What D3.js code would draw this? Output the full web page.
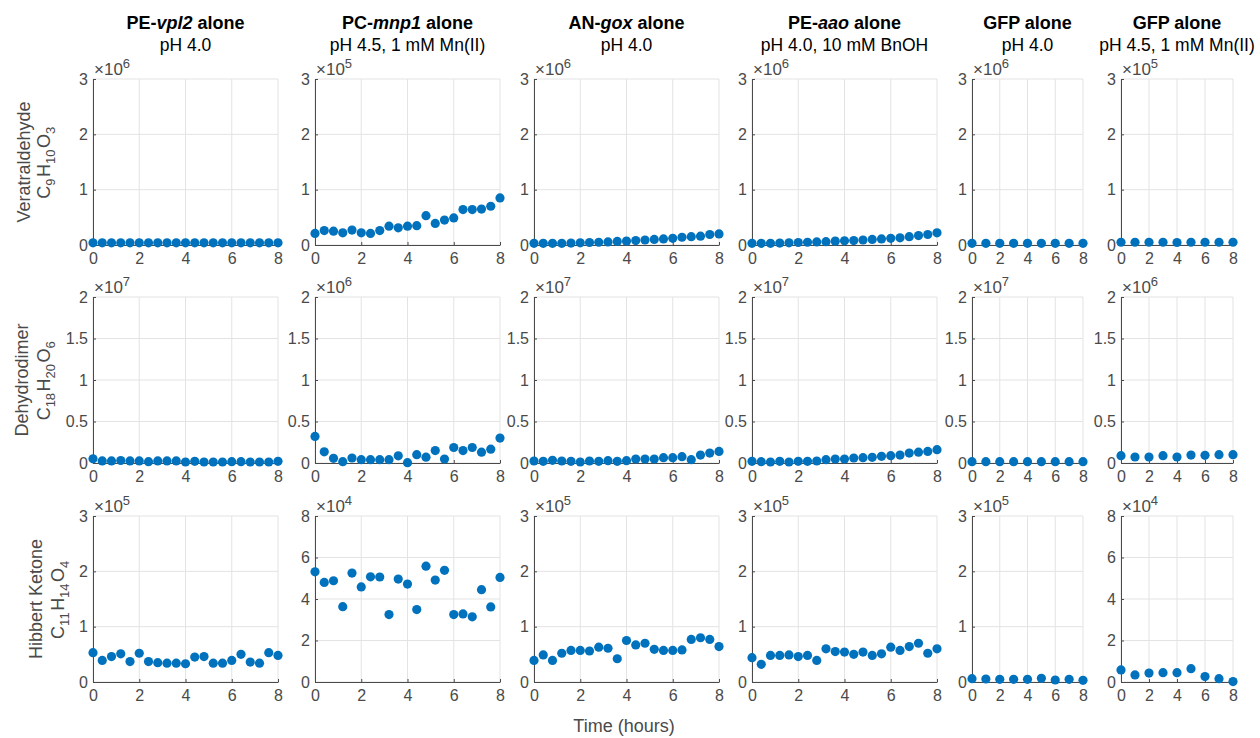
<!DOCTYPE html>
<html>
<head>
<meta charset="utf-8">
<script src="https://cdn.jsdelivr.net/npm/d3@7"></script>
<style>
  body { margin: 0; background: #fff; }
  svg { font-family: "Liberation Sans", Arial, Helvetica, sans-serif; }
</style>
</head>
<body>
<div class="chartContainer"></div>
<script>
//time points (hours)
var timeLong = [0, 0.4, 0.8, 1.2, 1.6, 2, 2.4, 2.8, 3.2, 3.6, 4, 4.4, 4.8, 5.2, 5.6, 6, 6.4, 6.8, 7.2, 7.6, 8];
var timeShort = [0, 1, 2, 3, 4, 5, 6, 7, 8];
var xTicks = [0, 2, 4, 6, 8];

//column titles: [bold, bold italic gene, bold]
var titleParts = [
    ["PE-", "vpl2", " alone"],
    ["PC-", "mnp1", " alone"],
    ["AN-", "gox", " alone"],
    ["PE-", "aao", " alone"],
    ["GFP alone", "", ""],
    ["GFP alone", "", ""]
];
var conditions = ["pH 4.0", "pH 4.5, 1 mM Mn(II)", "pH 4.0", "pH 4.0, 10 mM BnOH", "pH 4.0", "pH 4.5, 1 mM Mn(II)"];

//row labels
var compounds = ["Veratraldehyde", "Dehydrodimer", "Hibbert Ketone"];
var formulas = ["C9H10O3", "C18H20O6", "C11H14O4"];

//y axis: max value and power of ten per panel [row][col]
var yMax = [[3, 3, 3, 3, 3, 3], [2, 2, 2, 2, 2, 2], [3, 8, 3, 3, 3, 8]];
var exponents = [[6, 5, 6, 6, 6, 5], [7, 6, 7, 7, 7, 6], [5, 4, 5, 5, 5, 4]];

//veratraldehyde (values in units of 10^exponent)
var verVpl2 = [0.04, 0.04, 0.04, 0.04, 0.04, 0.04, 0.04, 0.04, 0.04, 0.04, 0.04, 0.04, 0.04, 0.04, 0.04, 0.04, 0.04, 0.04, 0.04, 0.04, 0.04];
var verMnp1 = [0.21, 0.26, 0.25, 0.22, 0.27, 0.22, 0.21, 0.26, 0.34, 0.31, 0.34, 0.35, 0.53, 0.39, 0.45, 0.49, 0.64, 0.64, 0.65, 0.70, 0.85];
var verGox = [0.03, 0.03, 0.03, 0.03, 0.035, 0.04, 0.045, 0.05, 0.055, 0.065, 0.07, 0.08, 0.09, 0.10, 0.11, 0.12, 0.14, 0.15, 0.16, 0.19, 0.20];
var verAao = [0.03, 0.03, 0.03, 0.035, 0.04, 0.045, 0.05, 0.055, 0.06, 0.07, 0.075, 0.08, 0.09, 0.10, 0.11, 0.12, 0.13, 0.15, 0.17, 0.19, 0.22];
var verGfp = [0.03, 0.03, 0.03, 0.03, 0.03, 0.03, 0.03, 0.03, 0.03];
var verGfpMn = [0.05, 0.05, 0.05, 0.05, 0.045, 0.05, 0.05, 0.05, 0.05];

//dehydrodimer
var dimVpl2 = [0.05, 0.025, 0.025, 0.03, 0.025, 0.025, 0.016, 0.025, 0.025, 0.025, 0.012, 0.02, 0.012, 0.012, 0.012, 0.016, 0.016, 0.012, 0.012, 0.012, 0.02];
var dimMnp1 = [0.32, 0.135, 0.056, 0.016, 0.06, 0.04, 0.04, 0.04, 0.04, 0.087, 0.004, 0.10, 0.07, 0.15, 0.048, 0.187, 0.15, 0.187, 0.13, 0.167, 0.30];
var dimGox = [0.024, 0.02, 0.032, 0.024, 0.02, 0.012, 0.024, 0.02, 0.028, 0.02, 0.028, 0.048, 0.048, 0.048, 0.064, 0.064, 0.076, 0.04, 0.096, 0.12, 0.14];
var dimAao = [0.02, 0.016, 0.012, 0.02, 0.012, 0.02, 0.02, 0.024, 0.04, 0.048, 0.048, 0.06, 0.064, 0.068, 0.08, 0.088, 0.096, 0.12, 0.13, 0.14, 0.16];
var dimGfp = [0.016, 0.016, 0.016, 0.016, 0.016, 0.016, 0.016, 0.016, 0.016];
var dimGfpMn = [0.088, 0.072, 0.072, 0.088, 0.072, 0.096, 0.092, 0.10, 0.10];

//hibbert ketone
var hkVpl2 = [0.53, 0.39, 0.46, 0.51, 0.37, 0.52, 0.37, 0.35, 0.34, 0.34, 0.33, 0.45, 0.46, 0.34, 0.34, 0.39, 0.50, 0.36, 0.34, 0.53, 0.48];
var hkMnp1 = [5.31, 4.80, 4.88, 3.63, 5.25, 4.58, 5.07, 5.06, 3.25, 4.96, 4.72, 3.49, 5.58, 4.91, 5.38, 3.25, 3.28, 3.14, 4.45, 3.62, 5.04];
var hkGox = [0.39, 0.49, 0.39, 0.52, 0.57, 0.57, 0.56, 0.63, 0.61, 0.42, 0.75, 0.67, 0.70, 0.59, 0.57, 0.57, 0.58, 0.77, 0.80, 0.77, 0.64];
var hkAao = [0.44, 0.32, 0.48, 0.48, 0.49, 0.46, 0.48, 0.39, 0.60, 0.55, 0.54, 0.50, 0.54, 0.48, 0.51, 0.63, 0.57, 0.64, 0.70, 0.52, 0.60];
var hkGfp = [0.06, 0.054, 0.048, 0.048, 0.048, 0.066, 0.036, 0.048, 0.03];
var hkGfpMn = [0.58, 0.34, 0.43, 0.45, 0.45, 0.64, 0.26, 0.16, 0.02];

var series = [
    [verVpl2, verMnp1, verGox, verAao, verGfp, verGfpMn],
    [dimVpl2, dimMnp1, dimGox, dimAao, dimGfp, dimGfpMn],
    [hkVpl2, hkMnp1, hkGox, hkAao, hkGfp, hkGfpMn]
];

//panel layout
var colLeft = [93, 315, 534, 752, 972, 1121],
    colWidth = [185, 185, 185, 185, 111, 112],
    rowTop = [79, 297, 516],
    rowHeight = 166;
var labelBase = [[30, 50], [28, 50], [42, 64]];

var textColor = "#4a4a4a",
    dotColor = "#0072BD";

window.onload = drawChart();

function drawChart(){

    var svg = d3.select("div.chartContainer")
        .append("svg")
        .attr("width", 1260)
        .attr("height", 738);

    //column titles
    titleParts.forEach(function(parts, c){
        var cx = colLeft[c] + colWidth[c] / 2;
        var title = svg.append("text")
            .attr("x", cx)
            .attr("y", 29)
            .attr("text-anchor", "middle")
            .attr("font-size", 18)
            .attr("font-weight", "bold")
            .attr("fill", "#000");
        title.append("tspan").text(parts[0]);
        if (parts[1]) title.append("tspan").attr("font-style", "italic").text(parts[1]);
        if (parts[2]) title.append("tspan").text(parts[2]);

        svg.append("text")
            .attr("x", cx)
            .attr("y", 51)
            .attr("text-anchor", "middle")
            .attr("font-size", 17.5)
            .attr("fill", "#000")
            .text(conditions[c]);
    });

    //row labels, rotated
    compounds.forEach(function(name, r){
        var cy = rowTop[r] + rowHeight / 2;
        var g = svg.append("g")
            .attr("transform", "translate(0," + cy + ") rotate(-90)");
        g.append("text")
            .attr("x", 0)
            .attr("y", labelBase[r][0])
            .attr("text-anchor", "middle")
            .attr("font-size", 18)
            .attr("fill", textColor)
            .text(name);
        var f = g.append("text")
            .attr("x", 0)
            .attr("y", labelBase[r][1])
            .attr("text-anchor", "middle")
            .attr("font-size", 18)
            .attr("fill", textColor);
        //split formula into element letters and subscript digits
        formulas[r].match(/[A-Z][a-z]?|\d+/g).forEach(function(tok){
            if (/\d/.test(tok)){
                f.append("tspan").attr("font-size", 13).attr("dy", 5).text(tok);
                f.append("tspan").attr("font-size", 18).attr("dy", -5).text("\u200A");
            } else {
                f.append("tspan").text(tok);
            }
        });
    });

    //panels
    for (var r = 0; r < 3; r++){
        for (var c = 0; c < 6; c++){
            drawPanel(svg, r, c);
        }
    }

    //shared x label
    svg.append("text")
        .attr("x", 624)
        .attr("y", 732)
        .attr("text-anchor", "middle")
        .attr("font-size", 18)
        .attr("fill", textColor)
        .text("Time (hours)");
};

function drawPanel(svg, r, c){
    var w = colWidth[c],
        h = rowHeight,
        vals = series[r][c],
        times = vals.length == timeLong.length ? timeLong : timeShort,
        top = yMax[r][c];

    var yTicks = top == 2 ? [0, 0.5, 1, 1.5, 2] : (top == 8 ? [0, 2, 4, 6, 8] : [0, 1, 2, 3]);

    var x = d3.scaleLinear().domain([0, 8]).range([0, w]);
    var y = d3.scaleLinear().domain([0, top]).range([h, 0]);

    var g = svg.append("g")
        .attr("transform", "translate(" + colLeft[c] + "," + rowTop[r] + ")");

    //grid
    g.selectAll(".gx")
        .data(xTicks)
        .enter()
        .append("line")
        .attr("x1", function(d){ return x(d); })
        .attr("x2", function(d){ return x(d); })
        .attr("y1", 0)
        .attr("y2", h)
        .attr("stroke", "#e3e3e3");
    g.selectAll(".gy")
        .data(yTicks)
        .enter()
        .append("line")
        .attr("x1", 0)
        .attr("x2", w)
        .attr("y1", function(d){ return y(d); })
        .attr("y2", function(d){ return y(d); })
        .attr("stroke", "#e3e3e3");

    //axes
    var xAxis = g.append("g")
        .attr("transform", "translate(0," + h + ")")
        .call(d3.axisBottom(x).tickValues(xTicks).tickSizeInner(-3).tickSizeOuter(0).tickPadding(12));
    var yAxis = g.append("g")
        .call(d3.axisLeft(y).tickValues(yTicks).tickSizeInner(-3).tickSizeOuter(0).tickPadding(5)
            .tickFormat(function(d){ return String(d); }));

    [xAxis, yAxis].forEach(function(ax){
        ax.attr("font-family", null).attr("font-size", 16);
        ax.select(".domain").attr("stroke", "#4a4a4a");
        ax.selectAll(".tick line").attr("stroke", "#4a4a4a");
        ax.selectAll(".tick text").attr("fill", textColor);
    });
    xAxis.selectAll(".tick text").attr("dy", "0.71em").attr("y", 8);

    //exponent label
    var ex = g.append("text")
        .attr("x", 1)
        .attr("y", -4)
        .attr("font-size", 17)
        .attr("fill", textColor);
    ex.append("tspan").text("\u00D710");
    ex.append("tspan").attr("font-size", 13).attr("dy", -7).text(exponents[r][c]);

    //points
    g.selectAll(".dot")
        .data(vals)
        .enter()
        .append("circle")
        .attr("class", "dot")
        .attr("cx", function(d, i){ return x(times[i]); })
        .attr("cy", function(d){ return y(d); })
        .attr("r", 4.6)
        .attr("fill", dotColor);
};
</script>
</body>
</html>
